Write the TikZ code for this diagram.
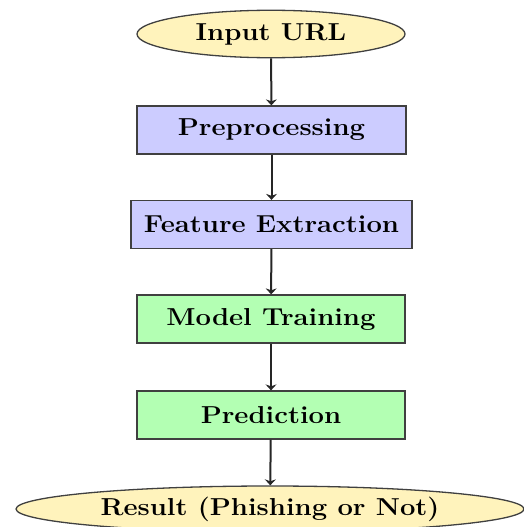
\documentclass[tikz,border=0pt]{standalone}
\usetikzlibrary{shapes.geometric,arrows.meta}
\definecolor{termfill}{RGB}{255,243,188}
\definecolor{procblue}{RGB}{204,204,255}
\definecolor{procgreen}{RGB}{179,255,179}
\newcommand{\wtext}[1]{\scalebox{1.12}[1]{#1}}
\begin{document}
\begin{tikzpicture}[x=1pt,y=-1pt,
  base/.style={draw=black!75, line width=1.3pt, font=\fontsize{24.5}{28}\selectfont\bfseries, inner sep=6pt},
  term/.style={base, ellipse, fill=termfill},
  blueproc/.style={base, rectangle, fill=procblue, minimum height=48pt},
  greenproc/.style={base, rectangle, fill=procgreen, minimum height=48pt},
  flow/.style={-{Stealth[length=6pt,width=11pt,inset=2pt]}, line width=2pt, black!85}]
\useasboundingbox (0,0) rectangle (524,527);
\node[term, minimum width=268pt, minimum height=43pt] (input) at (271,34) {\wtext{Input URL}};
\node[blueproc, minimum width=269pt] (pre) at (271.5,130) {\wtext{Preprocessing}};
\node[blueproc, minimum width=281pt] (feat) at (271.5,224.5) {\wtext{Feature Extraction}};
\node[greenproc, minimum width=268pt] (model) at (271,319) {\wtext{Model Training}};
\node[greenproc, minimum width=268pt] (pred) at (271,415) {\wtext{Prediction}};
\node[term, minimum width=508pt, minimum height=46pt, inner sep=1pt] (result) at (270,509) {\wtext{Result (Phishing or Not)}};
\draw[flow] (input) -- (pre);
\draw[flow] (pre) -- (feat);
\draw[flow] (feat) -- (model);
\draw[flow] (model) -- (pred);
\draw[flow] (pred) -- (result);
\end{tikzpicture}
\end{document}
